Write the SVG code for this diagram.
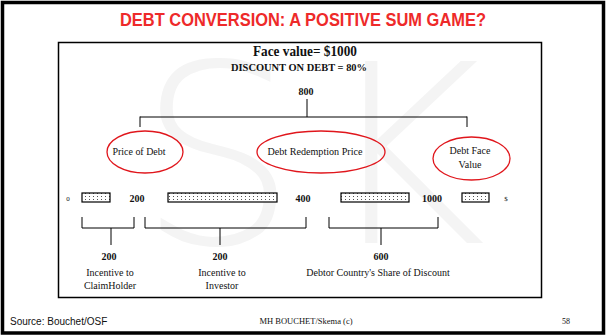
<svg xmlns="http://www.w3.org/2000/svg" width="606" height="335" viewBox="0 0 606 335">
<style>
.s{font-family:"Liberation Serif","Times New Roman",serif;fill:#111}
.b{font-weight:bold}
.lbl{font-size:10px}
.num{font-size:10px;font-weight:bold}
.ell{fill:none;stroke:#e0161c;stroke-width:1.3}
.ln{fill:none;stroke:#000;stroke-width:1}
.bar{fill:url(#dots);stroke:#000;stroke-width:1.2}
</style>
<defs>
<pattern id="dots" width="4" height="3" patternUnits="userSpaceOnUse">
<rect width="4" height="3" fill="#fff"/>
<rect x="1" y="1" width="1" height="1" fill="#555"/>
</pattern>
</defs>
<rect x="0" y="0" width="606" height="335" fill="#fff"/>
<rect x="2.5" y="2.5" width="601" height="330.5" fill="none" stroke="#000" stroke-width="3.5"/>
<g id="watermark" fill="#f4f4f4" font-family="DejaVu Sans" font-weight="200" font-size="250">
<text x="138" y="243">S</text>
<text x="322" y="243">K</text>
</g>
<text x="303" y="26" text-anchor="middle" font-family="Liberation Sans,Arial,sans-serif" font-weight="bold" font-size="18" fill="#ee2a2a" textLength="366" lengthAdjust="spacingAndGlyphs">DEBT CONVERSION: A POSITIVE SUM GAME?</text>
<rect x="58.5" y="42.5" width="483" height="255" fill="none" stroke="#000" stroke-width="1.5"/>
<g id="header">
<text class="s b" x="305" y="56" font-size="14" text-anchor="middle" textLength="104" lengthAdjust="spacingAndGlyphs">Face value= $1000</text>
<text class="s b" x="299" y="71" font-size="10.5" text-anchor="middle" textLength="136" lengthAdjust="spacingAndGlyphs">DISCOUNT ON DEBT = 80%</text>
<text class="s num" x="306" y="95" text-anchor="middle">800</text>
</g>
<g id="connectors">
<path class="ln" d="M307 99V117M140 117H467M140 116.5V127M467 116.5V127"/>
<path class="ln" d="M82 217V228H134V217M111 228V245"/>
<path class="ln" d="M145 217V228H306V217M220 228V245"/>
<path class="ln" d="M329 217V228H438V217M381 228V245"/>
</g>
<g id="price-of-debt">
<ellipse class="ell" cx="145" cy="152" rx="38" ry="21"/>
<text class="s lbl" x="139" y="155" text-anchor="middle" textLength="53" lengthAdjust="spacingAndGlyphs">Price of Debt</text>
</g>
<g id="redemption-price">
<ellipse class="ell" cx="321" cy="152" rx="64" ry="21"/>
<text class="s lbl" x="315" y="155" text-anchor="middle" textLength="95" lengthAdjust="spacingAndGlyphs">Debt Redemption Price</text>
</g>
<g id="face-value">
<ellipse class="ell" cx="471.5" cy="158.5" rx="38.5" ry="21.5"/>
<text class="s lbl" x="470" y="154" text-anchor="middle">Debt Face</text>
<text class="s lbl" x="470" y="168" text-anchor="middle">Value</text>
</g>
<g id="scale">
<text class="s" x="68" y="201" font-size="7" text-anchor="middle">0</text>
<rect class="bar" x="82" y="193" width="28" height="9"/>
<text class="s num" x="137" y="202" text-anchor="middle">200</text>
<rect class="bar" x="168" y="193" width="109" height="9"/>
<text class="s num" x="303" y="202" text-anchor="middle">400</text>
<rect class="bar" x="341" y="193" width="68" height="9"/>
<text class="s num" x="432" y="202" text-anchor="middle">1000</text>
<rect class="bar" x="462" y="193" width="27" height="9"/>
<text class="s" x="506" y="201" font-size="7" text-anchor="middle">$</text>
</g>
<g id="claimholder">
<text class="s num" x="109" y="260" text-anchor="middle">200</text>
<text class="s lbl" x="110" y="276" text-anchor="middle">Incentive to</text>
<text class="s lbl" x="110" y="289" text-anchor="middle">ClaimHolder</text>
</g>
<g id="investor">
<text class="s num" x="220" y="260" text-anchor="middle">200</text>
<text class="s lbl" x="222" y="276" text-anchor="middle">Incentive to</text>
<text class="s lbl" x="222" y="289" text-anchor="middle">Investor</text>
</g>
<g id="debtor">
<text class="s num" x="381" y="260" text-anchor="middle">600</text>
<text class="s lbl" x="378" y="276" text-anchor="middle">Debtor Country's Share of Discount</text>
</g>
<text x="10" y="325" font-family="Liberation Sans,Arial,sans-serif" font-size="10" fill="#111">Source: Bouchet/OSF</text>
<text class="s" x="306" y="324" font-size="8.5" text-anchor="middle">MH BOUCHET/Skema (c)</text>
<text class="s" x="566" y="324" font-size="8" text-anchor="middle">58</text>
</svg>
